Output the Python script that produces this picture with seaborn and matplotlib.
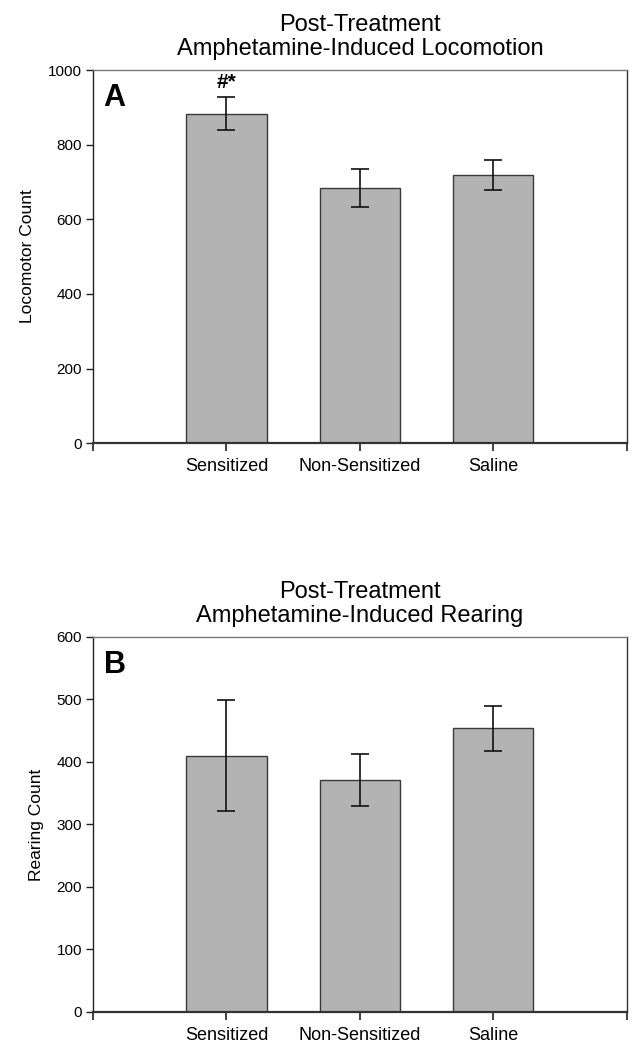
import matplotlib
matplotlib.use("Agg")
import matplotlib.pyplot as plt
import seaborn as sns
import pandas as pd
import numpy as np

groups = ["Sensitized", "Non-Sensitized", "Saline"]
loco_mean = [883, 683, 719]
loco_sem = [44, 51, 40]
rear_mean = [410, 371, 454]
rear_sem = [89, 42, 36]

sns.set_style("ticks")
plt.rcParams["font.family"] = ["Liberation Sans", "DejaVu Sans"]
plt.rcParams["text.color"] = "black"
plt.rcParams["axes.labelcolor"] = "black"
plt.rcParams["xtick.color"] = "black"
plt.rcParams["ytick.color"] = "black"

fig = plt.figure(figsize=(6.44, 10.5), dpi=100)
axA = fig.add_axes([0.1444, 0.578, 0.829, 0.3552])
axB = fig.add_axes([0.1444, 0.0362, 0.829, 0.3572])

def panel(ax, means, sems, ylim, yticks, ylabel, title, letter):
    df = pd.DataFrame({"group": groups, "value": means})
    sns.barplot(data=df, x="group", y="value", order=groups, color="#b3b3b3",
                width=0.6, edgecolor="#3a3a3a", linewidth=1.0, saturation=1,
                errorbar=None, ax=ax)
    ax.errorbar(np.arange(len(groups)), means, yerr=sems, fmt="none",
                ecolor="#111111", elinewidth=1.2, capsize=6.5, capthick=1.2, zorder=5)
    ax.set_xlim(-1, 3)
    ax.set_ylim(*ylim)
    ax.set_yticks(yticks)
    ax.set_yticklabels([str(t) for t in yticks], fontsize=11)
    ax.set_xticks([-1, 0, 1, 2, 3])
    ax.set_xticklabels(["", *groups, ""], fontsize=13)
    ax.tick_params(axis="x", length=6, width=1.2, pad=5, color="#222222")
    ax.tick_params(axis="y", length=5, width=1.0, pad=3, color="#222222")
    ax.set_xlabel("")
    ax.set_ylabel(ylabel, fontsize=12.5, labelpad=9)
    ax.set_title(title, fontsize=17, pad=11, linespacing=1.12)
    for s in ["top", "right"]:
        ax.spines[s].set_visible(True)
    ax.spines["top"].set_color("#777777")
    ax.spines["right"].set_color("#333333")
    ax.spines["left"].set_color("#222222")
    ax.spines["bottom"].set_color("#333333")
    ax.spines["bottom"].set_linewidth(1.6)
    for s in ["top", "right", "left"]:
        ax.spines[s].set_linewidth(1.0)
    ax.text(0.02, 0.965, letter, transform=ax.transAxes, fontsize=22,
            fontweight="bold", va="top", ha="left")

panel(axA, loco_mean, loco_sem, (0, 1000), [0, 200, 400, 600, 800, 1000],
      "Locomotor Count", "Post-Treatment\nAmphetamine-Induced Locomotion", "A")
panel(axB, rear_mean, rear_sem, (0, 600), [0, 100, 200, 300, 400, 500, 600],
      "Rearing Count", "Post-Treatment\nAmphetamine-Induced Rearing", "B")

axA.text(0, loco_mean[0] + loco_sem[0] + 14, "#*", ha="center", va="bottom",
         fontsize=15, fontweight="bold")

fig.savefig("out.png", dpi=100)
